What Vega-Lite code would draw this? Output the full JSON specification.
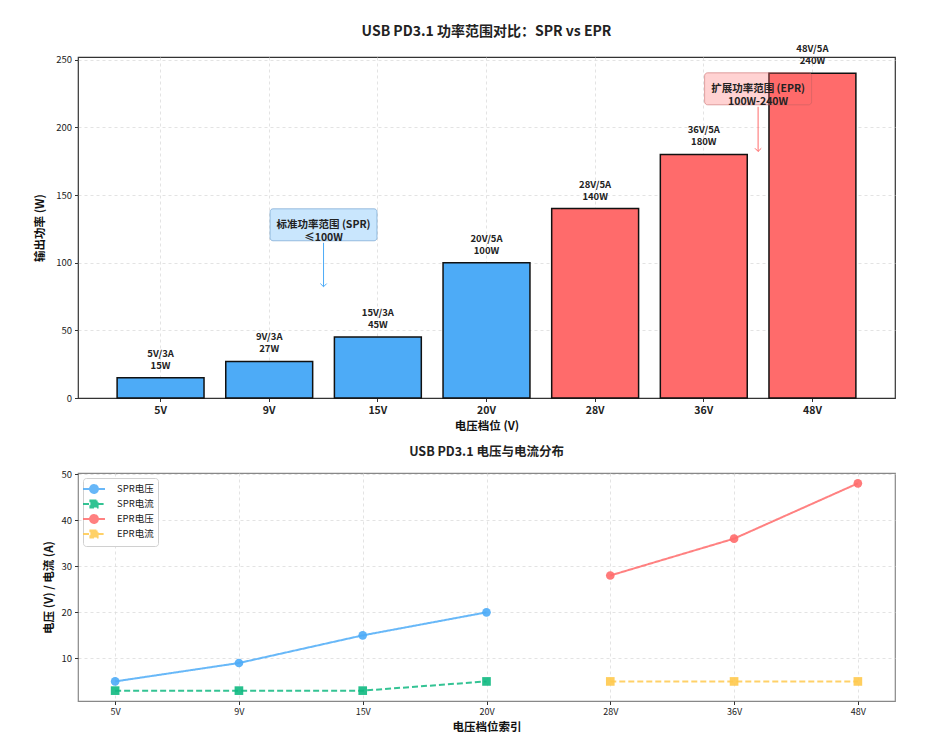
{
  "$schema": "https://vega.github.io/schema/vega-lite/v6.json",
  "background": "white",
  "padding": {"left": 34, "top": 24, "right": 10, "bottom": 4},
  "spacing": 12,
  "resolve": {"scale": {"color": "independent", "stroke": "independent", "shape": "independent", "strokeDash": "independent"}, "legend": {"color": "independent", "shape": "independent"}},
  "config": {
    "font": "Noto Sans CJK SC",
    "view": {"stroke": "#333", "strokeWidth": 1.2},
    "axis": {
      "domain": false, "grid": true, "gridColor": "#dcdcdc", "gridDash": [3, 3], "gridWidth": 0.8,
      "tickColor": "#333", "tickSize": 3.5, "labelColor": "#222", "titleColor": "#111",
      "titleFontWeight": "bold", "titleFontSize": 11.5, "labelFontSize": 9.5, "labelPadding": 3
    },
    "title": {"fontWeight": "bold", "color": "#222", "anchor": "middle"}
  },
  "datasets": {
    "bars": [
      {"档位": "5V", "功率": 15, "类型": "SPR", "标签": ["5V/3A", "15W"]},
      {"档位": "9V", "功率": 27, "类型": "SPR", "标签": ["9V/3A", "27W"]},
      {"档位": "15V", "功率": 45, "类型": "SPR", "标签": ["15V/3A", "45W"]},
      {"档位": "20V", "功率": 100, "类型": "SPR", "标签": ["20V/5A", "100W"]},
      {"档位": "28V", "功率": 140, "类型": "EPR", "标签": ["28V/5A", "140W"]},
      {"档位": "36V", "功率": 180, "类型": "EPR", "标签": ["36V/5A", "180W"]},
      {"档位": "48V", "功率": 240, "类型": "EPR", "标签": ["48V/5A", "240W"]}
    ],
    "notes": [
      {"范围": "SPR", "文本": ["标准功率范围 (SPR)", "≤100W"], "文本x": 1.5, "文本y": 128, "箭头y": 80},
      {"范围": "EPR", "文本": ["扩展功率范围 (EPR)", "100W-240W"], "文本x": 5.5, "文本y": 228.5, "箭头y": 180}
    ],
    "lines": [
      {"档位": "5V", "系列": "SPR电压", "数值": 5},
      {"档位": "9V", "系列": "SPR电压", "数值": 9},
      {"档位": "15V", "系列": "SPR电压", "数值": 15},
      {"档位": "20V", "系列": "SPR电压", "数值": 20},
      {"档位": "5V", "系列": "SPR电流", "数值": 3},
      {"档位": "9V", "系列": "SPR电流", "数值": 3},
      {"档位": "15V", "系列": "SPR电流", "数值": 3},
      {"档位": "20V", "系列": "SPR电流", "数值": 5},
      {"档位": "28V", "系列": "EPR电压", "数值": 28},
      {"档位": "36V", "系列": "EPR电压", "数值": 36},
      {"档位": "48V", "系列": "EPR电压", "数值": 48},
      {"档位": "28V", "系列": "EPR电流", "数值": 5},
      {"档位": "36V", "系列": "EPR电流", "数值": 5},
      {"档位": "48V", "系列": "EPR电流", "数值": 5}
    ]
  },
  "vconcat": [
    {
      "width": 817,
      "height": 341,
      "title": {"text": "USB PD3.1 功率范围对比：SPR vs EPR", "fontSize": 14, "offset": 5},
      "layer": [
        {
          "data": {"name": "bars"},
          "encoding": {
            "x": {
              "field": "档位", "type": "nominal", "sort": null,
              "scale": {"paddingInner": 0.2, "paddingOuter": 0.36},
              "axis": {"title": "电压档位 (V)", "labelAngle": 0, "labelFontWeight": "bold", "labelFontSize": 10.5, "bandPosition": 0.5, "titlePadding": 4, "labelPadding": 4}
            },
            "y": {
              "field": "功率", "type": "quantitative",
              "scale": {"domain": [0, 252], "nice": false},
              "axis": {"title": "输出功率 (W)", "values": [0, 50, 100, 150, 200, 250], "titlePadding": 10, "gridOpacity": {"condition": {"test": "datum.value === 0", "value": 0}, "value": 1}}
            }
          },
          "layer": [
            {
              "mark": {"type": "bar", "stroke": "#111", "strokeWidth": 1.5},
              "encoding": {
                "color": {"field": "类型", "type": "nominal", "scale": {"domain": ["SPR", "EPR"], "range": ["#4DABF7", "#FF6B6B"]}, "legend": null}
              }
            },
            {
              "mark": {"type": "text", "baseline": "bottom", "dy": -19, "fontWeight": "bold", "fontSize": 9.5, "lineHeight": 12, "color": "#222"},
              "encoding": {"text": {"field": "标签"}}
            }
          ]
        },
        {
          "data": {"name": "notes"},
          "encoding": {
            "x": {"field": "文本x", "type": "quantitative", "scale": {"domain": [-0.76, 6.76], "nice": false, "zero": false}, "axis": null}
          },
          "layer": [
            {
              "mark": {"type": "rule", "strokeWidth": 1, "yOffset": -3, "y2Offset": 18},
              "encoding": {
                "y": {"field": "箭头y", "type": "quantitative", "title": "输出功率 (W)"},
                "y2": {"field": "文本y"},
                "color": {"field": "范围", "type": "nominal", "legend": null}
              }
            },
            {
              "mark": {"type": "point", "shape": "M-1,-1L0,0L1,-1", "filled": false, "size": 40, "strokeWidth": 1, "yOffset": -3, "opacity": 1},
              "encoding": {
                "y": {"field": "箭头y", "type": "quantitative", "title": "输出功率 (W)"},
                "color": {"field": "范围", "type": "nominal", "legend": null}
              }
            },
            {
              "mark": {"type": "rect", "width": 107, "height": 32, "cornerRadius": 3, "fillOpacity": 0.3, "strokeOpacity": 0.55, "strokeWidth": 1},
              "encoding": {
                "y": {"field": "文本y", "type": "quantitative", "title": "输出功率 (W)"},
                "color": {"field": "范围", "type": "nominal", "legend": null},
                "stroke": {"field": "范围", "type": "nominal", "scale": {"domain": ["SPR", "EPR"], "range": ["#5a8fc4", "#c46060"]}, "legend": null}
              }
            },
            {
              "mark": {"type": "text", "baseline": "middle", "align": "center", "fontWeight": "bold", "fontSize": 10.5, "lineHeight": 13, "color": "#222"},
              "encoding": {
                "y": {"field": "文本y", "type": "quantitative", "title": "输出功率 (W)"},
                "text": {"field": "文本"}
              }
            }
          ]
        }
      ],
      "resolve": {"scale": {"x": "independent"}}
    },
    {
      "width": 817,
      "height": 228,
      "title": {"text": "USB PD3.1 电压与电流分布", "fontSize": 12.5, "offset": 11},
      "view": {"stroke": "#888"},
      "data": {"name": "lines"},
      "encoding": {
        "x": {
          "field": "档位", "type": "ordinal",
          "sort": ["5V", "9V", "15V", "20V", "28V", "36V", "48V"],
          "scale": {"type": "point", "padding": 0.3},
          "axis": {"title": "电压档位索引", "labelAngle": 0, "labelFontSize": 9, "titlePadding": 5}
        },
        "y": {
          "field": "数值", "type": "quantitative",
          "scale": {"domain": [0.75, 50.25], "nice": false, "zero": false},
          "axis": {"title": "电压 (V) / 电流 (A)", "values": [10, 20, 30, 40, 50], "titlePadding": 6}
        },
        "color": {
          "field": "系列", "type": "nominal",
          "scale": {"domain": ["SPR电压", "SPR电流", "EPR电压", "EPR电流"], "range": ["#4DABF7", "#10B981", "#FF6B6B", "#FFC94D"]},
          "legend": {
            "orient": "top-left", "title": null, "offset": 5, "padding": 4,
            "strokeColor": "#d0d0d0", "fillColor": "white", "cornerRadius": 3,
            "labelFontSize": 9.5, "labelColor": "#222", "labelOffset": 16,
            "symbolSize": 144, "rowPadding": -1, "symbolStrokeWidth": 2,
            "encode": {
              "symbols": {
                "update": {
                  "fill": {"signal": "datum.value === 'SPR电压' ? '#4DABF7' : datum.value === 'SPR电流' ? '#10B981' : datum.value === 'EPR电压' ? '#FF6B6B' : '#FFC94D'"},
                  "stroke": {"signal": "datum.value === 'SPR电压' ? '#4DABF7' : datum.value === 'SPR电流' ? '#10B981' : datum.value === 'EPR电压' ? '#FF6B6B' : '#FFC94D'"},
                  "strokeWidth": {"value": 2},
                  "opacity": {"value": 0.85}
                }
              }
            }
          }
        }
      },
      "layer": [
        {
          "mark": {"type": "line", "strokeWidth": 2, "opacity": 0.85},
          "encoding": {
            "strokeDash": {"field": "系列", "type": "nominal", "scale": {"domain": ["SPR电压", "SPR电流", "EPR电压", "EPR电流"], "range": [[1, 0], [6, 3], [1, 0], [6, 3]]}, "legend": null}
          }
        },
        {
          "transform": [{"filter": {"field": "系列", "oneOf": ["SPR电压", "EPR电压"]}}],
          "mark": {"type": "point", "shape": "circle", "filled": true, "size": 75, "opacity": 0.9}
        },
        {
          "transform": [{"filter": {"field": "系列", "oneOf": ["SPR电流", "EPR电流"]}}],
          "mark": {"type": "point", "shape": "square", "filled": true, "size": 75, "opacity": 0.9}
        },
        {
          "mark": {"type": "point", "filled": true, "size": 0},
          "encoding": {
            "shape": {
              "field": "系列", "type": "nominal",
              "scale": {
                "domain": ["SPR电压", "SPR电流", "EPR电压", "EPR电流"],
                "range": [
                  "M-1.83,0L-0.66,0M0.66,0L1.83,0M0.66,0A0.66,0.66,0,1,1,-0.66,0A0.66,0.66,0,1,1,0.66,0",
                  "M-1.83,0L-0.6,0M0.6,0L1.83,0M-0.6,-0.6L0.6,-0.6L0.6,0.6L-0.6,0.6Z",
                  "M-1.83,0L-0.66,0M0.66,0L1.83,0M0.66,0A0.66,0.66,0,1,1,-0.66,0A0.66,0.66,0,1,1,0.66,0",
                  "M-1.83,0L-0.6,0M0.6,0L1.83,0M-0.6,-0.6L0.6,-0.6L0.6,0.6L-0.6,0.6Z"
                ]
              },
              "legend": {"title": null}
            }
          }
        }
      ]
    }
  ]
}
